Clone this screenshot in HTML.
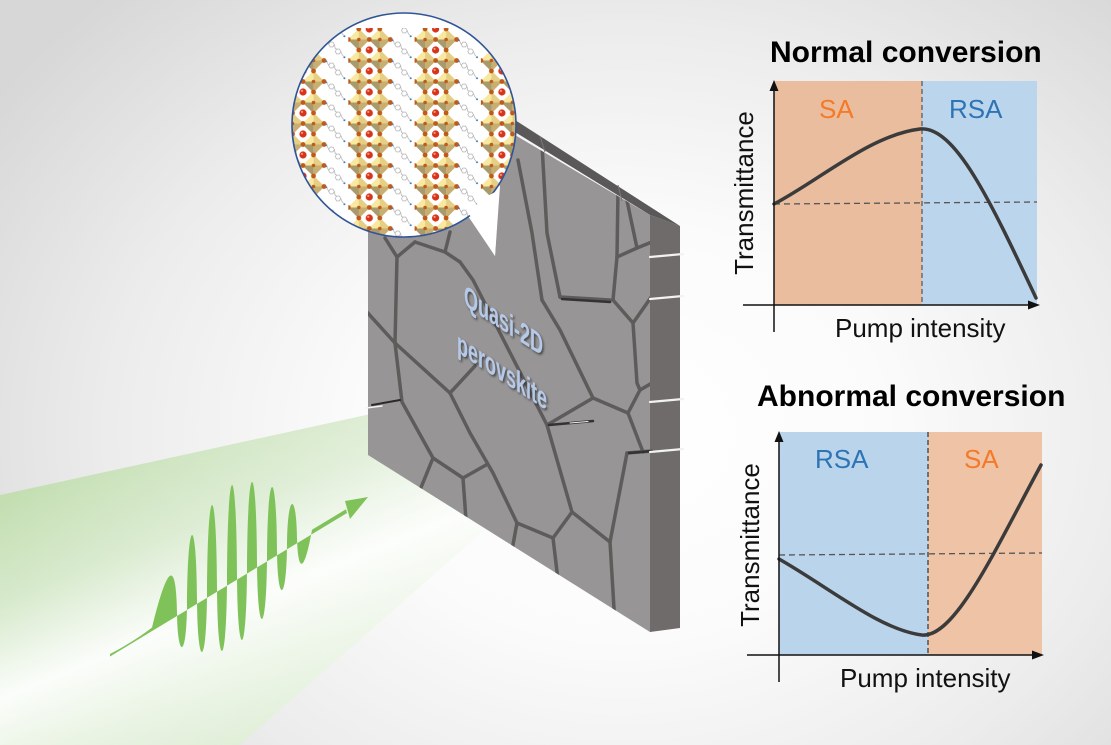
<!DOCTYPE html>
<html><head><meta charset="utf-8">
<style>
html,body{margin:0;padding:0;}
body{width:1111px;height:745px;overflow:hidden;position:relative;
background:radial-gradient(ellipse 68% 80% at 56% 58%, #ffffff 0%, #fbfbfb 35%, #ececec 68%, #d7d7d7 100%);}
svg{position:absolute;left:0;top:0;}
text{font-family:"Liberation Sans",Arial,sans-serif;}
</style></head><body>
<svg width="1111" height="745" viewBox="0 0 1111 745" xmlns="http://www.w3.org/2000/svg">
<defs>
  <linearGradient id="beam" gradientUnits="userSpaceOnUse" x1="100" y1="460" x2="240" y2="810">
    <stop offset="0" stop-color="#c3deb1"/>
    <stop offset="0.25" stop-color="#d6e9cb"/>
    <stop offset="0.49" stop-color="#fbfdfa"/>
    <stop offset="0.65" stop-color="#eaf4e4"/>
    <stop offset="0.84" stop-color="#d9ebcf"/>
    <stop offset="1" stop-color="#d9ebcf"/>
  </linearGradient>
  <linearGradient id="beamfade" gradientUnits="userSpaceOnUse" x1="0" y1="0" x2="480" y2="0">
    <stop offset="0" stop-color="#ffffff" stop-opacity="0"/>
    <stop offset="1" stop-color="#ffffff" stop-opacity="0.4"/>
  </linearGradient>
  <clipPath id="circ"><circle cx="404" cy="125" r="112"/></clipPath>
  <clipPath id="front"><polygon points="368,48 650,215 650,632 368,455"/></clipPath>
  <pattern id="crys" patternUnits="userSpaceOnUse" x="282" y="18.5" width="66.3" height="21">
    <g>
      <polygon points="-0.5,0 10.5,-11 10.5,0" fill="#f8e8a0"/>
      <polygon points="10.5,-11 21.5,0 10.5,0" fill="#e6cf84"/>
      <polygon points="21.5,0 10.5,11 10.5,0" fill="#c9ae72"/>
      <polygon points="10.5,11 -0.5,0 10.5,0" fill="#a99a6c"/>
      <polygon points="20.5,0 31.5,-11 31.5,0" fill="#f8e8a0"/>
      <polygon points="31.5,-11 42.5,0 31.5,0" fill="#e6cf84"/>
      <polygon points="42.5,0 31.5,11 31.5,0" fill="#c9ae72"/>
      <polygon points="31.5,11 20.5,0 31.5,0" fill="#a99a6c"/>
      <polygon points="-0.5,21 10.5,10 10.5,21" fill="#f8e8a0"/>
      <polygon points="10.5,10 21.5,21 10.5,21" fill="#e6cf84"/>
      <polygon points="21.5,21 10.5,32 10.5,21" fill="#c9ae72"/>
      <polygon points="10.5,32 -0.5,21 10.5,21" fill="#a99a6c"/>
      <polygon points="20.5,21 31.5,10 31.5,21" fill="#f8e8a0"/>
      <polygon points="31.5,10 42.5,21 31.5,21" fill="#e6cf84"/>
      <polygon points="42.5,21 31.5,32 31.5,21" fill="#c9ae72"/>
      <polygon points="31.5,32 20.5,21 31.5,21" fill="#a99a6c"/>
      <g fill="#c05a18">
        <circle cx="0" cy="0" r="2.4"/><circle cx="21" cy="0" r="2.4"/><circle cx="42" cy="0" r="2.4"/>
        <circle cx="10.5" cy="10.5" r="2.4"/><circle cx="31.5" cy="10.5" r="2.4"/>
        <circle cx="0" cy="21" r="2.4"/><circle cx="21" cy="21" r="2.4"/><circle cx="42" cy="21" r="2.4"/>
        <circle cx="10.5" cy="0" r="1.8"/><circle cx="31.5" cy="0" r="1.8"/>
        <circle cx="10.5" cy="21" r="1.8"/><circle cx="31.5" cy="21" r="1.8"/>
      </g>
      <circle cx="21" cy="10.5" r="3.6" fill="#d8341a"/>
      <circle cx="20" cy="9.4" r="1.1" fill="#f29a80"/>
      <g fill="none" stroke="#a2a2a2" stroke-width="0.6">
        <polygon points="52.3,5 50.9,7.4 48.1,7.4 46.7,5 48.1,2.6 50.9,2.6"/>
        <polygon points="58.8,12 57.4,14.4 54.6,14.4 53.2,12 54.6,9.6 57.4,9.6"/>
        <polyline points="45,1.5 46.7,5"/>
        <polyline points="52.3,5 53.2,9 54.6,9.6"/>
        <polyline points="58.8,12 60,15 61.5,16.8"/>
      </g>
      <circle cx="62.4" cy="17.8" r="1" fill="#4a78b5"/>
      <circle cx="44.4" cy="0.8" r="0.9" fill="#4a78b5"/>
    </g>
  </pattern>
  <filter id="ts" x="-20%" y="-20%" width="140%" height="140%">
    <feDropShadow dx="1.5" dy="2" stdDeviation="1" flood-color="#2a2a2a" flood-opacity="0.7"/>
  </filter>
</defs>

<!-- green beam -->
<polygon points="0,495 380,412 490,525 240,745 0,745" fill="url(#beam)"/>
<polygon points="0,495 380,412 490,525 240,745 0,745" fill="url(#beamfade)"/>

<!-- wall -->
<polygon points="650,215 680,226 680,628 650,632" fill="#6f6b6a"/>
<polygon points="440,86 515,120 680,226 650,215" fill="#5a5858"/>
<polygon points="368,48 650,215 650,632 368,455" fill="#979595"/>
<g stroke="#7a7877" stroke-width="1">
  <line x1="540" y1="136" x2="545" y2="152"/>
  <line x1="618" y1="185" x2="622" y2="201"/>
</g>
<g clip-path="url(#front)" fill="none" stroke="#5e5c5b" stroke-width="3.5" stroke-linejoin="round" stroke-linecap="round">
  <path d="M385,238 L397,257 L415,242"/>
  <path d="M397,257 L395,343"/>
  <path d="M415,242 L445,252 L460,262"/>
  <path d="M445,252 L450,232"/>
  <path d="M366,311 L395,343 L450,393"/>
  <path d="M450,393 L475,366"/>
  <path d="M460,262 L473,280 L500,333 L547,425"/>
  <path d="M450,393 L470,433 L493,473 L517,523"/>
  <path d="M395,343 L402,402 L433,458 L463,478 L486,465"/>
  <path d="M433,458 L420,490"/>
  <path d="M463,478 L466,520"/>
  <path d="M517,523 L553,538 L572,512"/>
  <path d="M517,523 L512,550"/>
  <path d="M553,538 L558,580"/>
  <path d="M572,512 L547,425"/>
  <path d="M572,512 L610,542 L627,453"/>
  <path d="M610,542 L615,625"/>
  <path d="M547,425 L593,398"/>
  <path d="M593,398 L628,413 L640,390 L652,383"/>
  <path d="M593,398 L560,330 L542,300"/>
  <path d="M542,300 L532,233 L518,160"/>
  <path d="M542,145 L547,233 L560,297"/>
  <path d="M560,297 L610,300"/>
  <path d="M618,190 L617,257 L613,300"/>
  <path d="M626,196 L637,248 L652,242"/>
  <path d="M617,257 L637,248"/>
  <path d="M613,300 L633,323 L652,296"/>
  <path d="M633,323 L637,383 L640,390"/>
  <path d="M628,413 L643,452"/>
  <path d="M627,453 L652,451"/>
</g>
<!-- cracks -->
<g stroke-linecap="round">
  <line x1="372" y1="405" x2="400" y2="400" stroke="#2a2a2a" stroke-width="2"/>
  <line x1="366" y1="408" x2="382" y2="406" stroke="#f4f4f4" stroke-width="1.5"/>
  <line x1="562" y1="299" x2="610" y2="302" stroke="#333" stroke-width="2.5"/>
  <line x1="549" y1="425" x2="593" y2="421" stroke="#333" stroke-width="2.5"/>
  <line x1="570" y1="423" x2="588" y2="421.5" stroke="#eee" stroke-width="1"/>
  <line x1="629" y1="453" x2="652" y2="451" stroke="#333" stroke-width="2.5"/>
  <g stroke="#f2f2f2" stroke-width="2.2">
    <line x1="650" y1="257" x2="683" y2="254"/>
    <line x1="650" y1="299" x2="683" y2="296"/>
    <line x1="650" y1="402" x2="683" y2="399"/>
    <line x1="650" y1="452" x2="683" y2="449"/>
  </g>
</g>
<!-- wall label -->
<g filter="url(#ts)" fill="#b6c9e8" font-weight="bold" font-size="30">
  <text transform="translate(464,305) skewY(33) scale(0.6,1)">Quasi-2D</text>
  <text transform="translate(457,352) skewY(33) scale(0.6,1)">perovskite</text>
</g>

<!-- speech bubble -->
<polygon points="440,150 468,216 495,256 500,186" fill="#ffffff"/>
<circle cx="404" cy="125" r="112" fill="#ffffff"/>
<g clip-path="url(#circ)">
  <rect x="285" y="28" width="240" height="220" fill="url(#crys)"/>
</g>
<circle cx="404" cy="125" r="112" fill="none" stroke="#2f5597" stroke-width="1.6"/>
<polygon points="469,214 495,256 499,190 480,200" fill="#ffffff"/>

<!-- green wave -->
<path fill="#80c25a" d="M110,654 C125,646 140,637 152,627.5
 C168,562 176,560 177,612.1
 C177.5,659.7 186.5,659.7 187,606.0
 C187.5,512.4 196.5,512.4 197,599.9
 C197.5,670.4 206.5,670.4 207,593.8
 C207.5,476.4 216.5,476.4 217,587.7
 C217.5,673.1 226.5,673.1 227,581.6
 C227.5,453.8 236.5,453.8 237,575.5
 C237.5,662.5 246.5,662.5 247,569.4
 C247.5,453.9 256.5,453.9 257,563.3
 C257.5,638.6 266.5,638.6 267,557.2
 C267.5,464.6 276.5,464.6 277,551.1
 C277.5,604 286.5,604 287,545.0
 C287.5,491.4 296.5,491.4 297,538.9
 C298,572 304,575 312,529.8
 L346,509.3 L347,513 L110,656.5 Z"/>
<polygon points="368,497 345,501 350,519" fill="#80c25a"/>

<!-- ===== Top chart ===== -->
<text x="770" y="62" font-size="30" font-weight="bold" fill="#000">Normal conversion</text>
<rect x="774" y="81" width="148" height="224" fill="#e9bd9d"/>
<rect x="922" y="81" width="115" height="224" fill="#bbd5ec"/>
<line x1="922" y1="81" x2="922" y2="305" stroke="#555" stroke-width="1.2" stroke-dasharray="5,3"/>
<line x1="774" y1="204" x2="1037" y2="202" stroke="#555" stroke-width="1.3" stroke-dasharray="6,4"/>
<path d="M774,204 C820,180 870,135 920,129 C955,126 990,200 1036,298" fill="none" stroke="#3b3b3b" stroke-width="3.5" stroke-linecap="round"/>
<line x1="774" y1="88" x2="774" y2="332" stroke="#111" stroke-width="1.5"/>
<polygon points="774,80 769.5,91 778.5,91" fill="#111"/>
<line x1="743" y1="305" x2="1030" y2="305" stroke="#111" stroke-width="1.5"/>
<polygon points="1040,305 1028,300.5 1028,309.5" fill="#111"/>
<text x="819" y="118" font-size="26" fill="#f47a2a">SA</text>
<text x="949" y="118" font-size="26" fill="#2e74b5">RSA</text>
<text x="753" y="193" font-size="26" fill="#111" text-anchor="middle" transform="rotate(-90 753 193)">Transmittance</text>
<text x="835" y="337" font-size="26" fill="#111">Pump intensity</text>

<!-- ===== Bottom chart ===== -->
<text x="757" y="406" font-size="30" font-weight="bold" fill="#000">Abnormal conversion</text>
<rect x="779" y="432" width="149" height="223" fill="#bad4ec"/>
<rect x="928" y="432" width="114" height="223" fill="#efc3a5"/>
<line x1="928" y1="432" x2="928" y2="655" stroke="#333" stroke-width="1.2" stroke-dasharray="5,3"/>
<line x1="779" y1="555" x2="1042" y2="553" stroke="#555" stroke-width="1.3" stroke-dasharray="6,4"/>
<path d="M779,559 C830,588 880,630 922,635 C955,638 995,550 1041,465" fill="none" stroke="#3b3b3b" stroke-width="3.5" stroke-linecap="round"/>
<line x1="779" y1="439" x2="779" y2="682" stroke="#111" stroke-width="1.5"/>
<polygon points="779,431 774.5,442 783.5,442" fill="#111"/>
<line x1="747" y1="655" x2="1034" y2="655" stroke="#111" stroke-width="1.5"/>
<polygon points="1044,655 1032,650.5 1032,659.5" fill="#111"/>
<text x="815" y="468" font-size="26" fill="#2e74b5">RSA</text>
<text x="964" y="468" font-size="26" fill="#f47a2a">SA</text>
<text x="759" y="545" font-size="26" fill="#111" text-anchor="middle" transform="rotate(-90 759 545)">Transmittance</text>
<text x="840" y="687" font-size="26" fill="#111">Pump intensity</text>
</svg>
</body></html>
